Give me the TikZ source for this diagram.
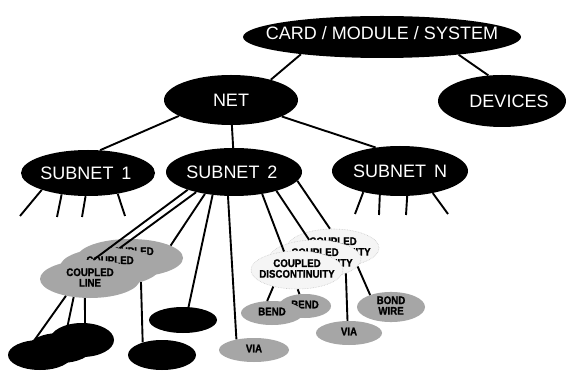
\documentclass[tikz,border=0pt]{standalone}
\usepackage{fontspec}
\setmainfont{Liberation Sans}
\newfontfamily\condbold{Liberation Sans Bold}[FakeStretch=0.88, FakeBold=1.2]
\usetikzlibrary{shapes.geometric}
% centred text of zero size: #1 = vertical shift (pt, up), #2 = horizontal shift (pt), #3 = text
\newcommand\ctxt[3]{\makebox[0pt]{\hspace*{\dimexpr 2\dimexpr #2pt\relax\relax}\raisebox{\dimexpr #1pt - 6.4pt\relax}[0pt][0pt]{#3}}}
\newcommand\glbl[1]{\makebox[0pt]{\begin{tabular}{@{}c@{}}#1\end{tabular}}}
\begin{document}
\begin{tikzpicture}[x=1pt,y=-1pt,
  conn/.style={line width=1.9pt, black},
  blk/.style={ellipse, fill=black, inner sep=0pt, text=white, font=\fontsize{18}{20}\selectfont},
  gry/.style={ellipse, fill=black!35, inner sep=0pt, font=\condbold\fontsize{11}{10}\selectfont},
  wht/.style={ellipse, fill=black!4, draw=black!22, densely dotted, line width=0.6pt, inner sep=0pt, font=\condbold\fontsize{11}{10}\selectfont},
  dark/.style={ellipse, fill=black, inner sep=0pt},
]
\useasboundingbox (0,0) rectangle (570,371);
\fill[white] (0,0) rectangle (570,371);

% top levels
\node[blk, minimum width=278pt, minimum height=42pt] (card) at (382,37) {\ctxt{4}{0}{CARD / MODULE / SYSTEM}};
\node[blk, minimum width=128pt, minimum height=52pt] (dev) at (502,101) {\ctxt{0}{7}{DEVICES}};
\node[blk, minimum width=134pt, minimum height=50pt] (net) at (231,100) {\ctxt{0}{0}{NET}};
\node[blk, minimum width=134pt, minimum height=46pt] (sub1) at (88,173) {\ctxt{0}{-2}{SUBNET\hspace{8pt}1}};
\node[blk, minimum width=136pt, minimum height=48pt] (sub2) at (234,172) {\ctxt{0}{-2}{SUBNET\hspace{8pt}2}};
\node[blk, minimum width=136pt, minimum height=50pt] (subN) at (400,171) {\ctxt{0}{0}{SUBNET\hspace{8pt}N}};

\draw[conn] (card.192) -- (net.27);
\draw[conn] (card.347) -- (dev.118);
\draw[conn] (net.197) -- (sub1.62);
\draw[conn] (net.272) -- (sub2.92);
\draw[conn] (net.342) -- (subN.136);

% legs of SUBNET 1 and SUBNET N
\coordinate (a1) at (20,216);
\coordinate (a2) at (57,217);
\coordinate (a3) at (82,217);
\coordinate (a4) at (125,216);
\draw[conn] (sub1.200) -- (a1);
\draw[conn] (sub1.219) -- (a2);
\draw[conn] (sub1.264) -- (a3);
\draw[conn] (sub1.325) -- (a4);
\coordinate (n1) at (355,214);
\coordinate (n2) at (379,215);
\coordinate (n3) at (406,215);
\coordinate (n4) at (448,214);
\draw[conn] (subN.210) -- (n1);
\draw[conn] (subN.230) -- (n2);
\draw[conn] (subN.286) -- (n3);
\draw[conn] (subN.326) -- (n4);

% coupled line stack
\node[gry, minimum width=106pt, minimum height=38pt] (cl3) at (130,258) {\glbl{COUPLED\\LINE}};
\draw[conn] (sub2.217) -- (cl3.17);
\node[gry, minimum width=100pt, minimum height=38pt] (cl2) at (110,267) {\glbl{COUPLED\\LINE}};
\draw[conn] (sub2.208) -- (cl2.63);
\node[gry, minimum width=100pt, minimum height=38pt] (cl1) at (90,279) {\glbl{COUPLED\\LINE}};
\draw[conn] (sub2.201) -- (cl1.80);

% black stack bottom left
\node[dark, minimum width=64pt, minimum height=34pt] (bk3) at (82,340) {};
\draw[conn] (cl1.255) -- (bk3.80);
\node[dark, minimum width=64pt, minimum height=30pt] (bk2) at (60,348) {};
\draw[conn] (cl1.228) -- (bk2.68);
\node[dark, minimum width=64pt, minimum height=30pt] (bk1) at (40,355) {};
\draw[conn] (cl1.215) -- (bk1.110);

\node[dark, minimum width=68pt, minimum height=30pt] (bc) at (162,355) {};
\draw[conn] (cl2.334) -- (bc.147);
\node[dark, minimum width=68pt, minimum height=26pt] (bm) at (183,320) {};
\draw[conn] (sub2.227) -- (bm.67);
\node[gry, minimum width=70pt, minimum height=24pt] (via1) at (254,350) {\glbl{VIA}};
\draw[conn] (sub2.256) -- (via1.149);

% coupled discontinuity stack
\node[wht, minimum width=92pt, minimum height=38pt] (cd3) at (333,248) {\glbl{COUPLED\\DISCONTINUITY}};
\draw[conn] (sub2.352) -- (cd3.99);
\node[wht, minimum width=92pt, minimum height=38pt] (cd2) at (315,259) {\glbl{COUPLED\\DISCONTINUITY}};
\draw[conn] (sub2.336) -- (cd2.107);
\node[wht, minimum width=92pt, minimum height=38pt] (cd1) at (297,270) {\glbl{COUPLED\\DISCONTINUITY}};
\draw[conn] (sub2.322) -- (cd1.125);

\node[gry, minimum width=52pt, minimum height=24pt] (bend2) at (305,306) {\glbl{BEND}};
\draw[conn] (cd1.272) -- (bend2.115);
\node[gry, minimum width=62pt, minimum height=24pt] (bend1) at (272,313) {\glbl{BEND}};
\draw[conn] (cd1.215) -- (bend1.112);
\node[gry, minimum width=66pt, minimum height=24pt] (via2) at (349,333) {\glbl{VIA}};
\draw[conn] (cd2.335) -- (via2.97);
\node[gry, minimum width=68pt, minimum height=26pt] (bond) at (391,307) {\glbl{BOND\\WIRE}};
\draw[conn] (cd2.350) -- (bond.150);
\end{tikzpicture}
\end{document}
